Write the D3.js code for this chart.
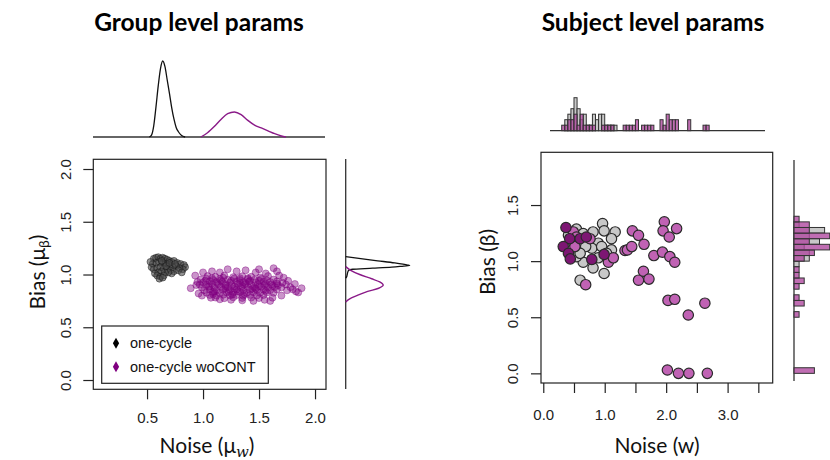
<!DOCTYPE html>
<html><head><meta charset="utf-8">
<script src="https://cdn.jsdelivr.net/npm/d3@7"></script>
<style>body{margin:0;background:#fff}svg{display:block}</style>
</head><body>
<svg id="c" width="830" height="460"></svg>
<script>
// ---------------- DATA ----------------
const titles = ["Group level params", "Subject level params"];
const legendLabels = ["one-cycle", "one-cycle woCONT"];
const groupXTicks = [0.5, 1.0, 1.5, 2.0];
const groupYTicks = [0.0, 0.5, 1.0, 1.5, 2.0];
const subjXTicks = [0.0, 0.5, 1.0, 1.5, 2.0, 2.5, 3.0, 3.5];
const subjXLabels = [0.0, 1.0, 2.0, 3.0];
const subjYTicks = [0.0, 0.5, 1.0, 1.5];

// group-level posterior samples (mu_w, mu_beta)
const groupOneCycle = [
 [0.56,1.15],[0.58,1.16],[0.60,1.165],[0.62,1.15],[0.64,1.16],[0.66,1.15],[0.68,1.14],[0.70,1.13],[0.72,1.12],[0.74,1.13],
 [0.77,1.11],[0.80,1.10],[0.83,1.09],[0.84,1.07],[0.82,1.05],[0.79,1.06],[0.76,1.08],[0.73,1.07],[0.70,1.09],[0.67,1.10],
 [0.64,1.11],[0.61,1.12],[0.58,1.11],[0.55,1.10],[0.54,1.07],[0.56,1.05],[0.59,1.06],[0.62,1.07],[0.65,1.06],[0.68,1.05],
 [0.71,1.04],[0.74,1.03],[0.72,1.01],[0.69,1.02],[0.66,1.02],[0.63,1.03],[0.60,1.02],[0.57,1.01],[0.59,0.99],[0.62,0.98],
 [0.65,0.99],[0.61,0.96],[0.64,0.97],[0.78,1.04],[0.81,1.02],[0.67,1.08],[0.63,1.13],[0.70,1.11],[0.75,1.10],[0.53,1.12]
];
const groupWoCont = [
 [1.04,0.985],[1.11,0.978],[1.19,0.99],[1.27,0.975],[1.35,0.983],[1.43,0.978],[1.51,0.972],[1.58,0.985],
 [0.98,0.952],[1.03,0.96],[1.09,0.948],[1.15,0.958],[1.22,0.951],[1.28,0.962],[1.33,0.947],[1.40,0.956],[1.46,0.95],[1.52,0.958],[1.57,0.945],[1.63,0.952],
 [0.95,0.93],[1.00,0.925],[1.06,0.935],[1.12,0.928],[1.17,0.932],[1.24,0.924],[1.30,0.934],[1.36,0.927],[1.41,0.933],[1.47,0.925],[1.54,0.931],[1.60,0.928],[1.66,0.935],[1.71,0.922],
 [0.97,0.905],[1.03,0.90],[1.08,0.91],[1.14,0.902],[1.20,0.907],[1.26,0.899],[1.31,0.908],[1.37,0.903],[1.43,0.90],[1.49,0.909],[1.55,0.901],[1.61,0.906],[1.67,0.898],[1.74,0.905],
 [0.99,0.878],[1.05,0.884],[1.10,0.876],[1.16,0.882],[1.22,0.879],[1.28,0.886],[1.34,0.875],[1.40,0.881],[1.46,0.878],[1.52,0.884],[1.58,0.876],[1.64,0.882],[1.70,0.879],
 [1.01,0.852],[1.06,0.858],[1.12,0.85],[1.18,0.856],[1.24,0.853],[1.30,0.859],[1.36,0.851],[1.42,0.855],[1.48,0.85],[1.54,0.857],[1.60,0.852],[1.66,0.858],
 [1.03,0.828],[1.09,0.833],[1.15,0.826],[1.21,0.831],[1.27,0.829],[1.33,0.834],[1.39,0.827],[1.45,0.832],[1.51,0.826],[1.57,0.83],[1.63,0.827],
 [1.06,0.806],[1.12,0.80],[1.18,0.808],[1.24,0.802],[1.30,0.805],[1.36,0.799],[1.42,0.807],[1.48,0.801],[1.54,0.806],
 [1.11,0.782],[1.19,0.776],[1.27,0.784],[1.35,0.778],[1.43,0.781],[1.50,0.777],
 [1.08,0.965],[1.25,0.94],[1.38,0.915],[1.20,0.87],[1.44,0.865],[1.31,0.84],[1.13,0.915],[1.56,0.915],[1.26,0.81],[1.40,0.965],
 [1.02,0.94],[1.16,0.945],[1.33,0.92],[1.50,0.94],[1.06,0.89],[1.28,0.865],[1.50,0.89],[1.62,0.89],[1.10,0.84],[1.37,0.815],
 [1.18,0.97],[1.47,0.865],[1.23,0.835],[1.56,0.845],[1.33,0.965],[1.09,0.815],[1.42,0.94],[1.66,0.915],[1.20,0.895],[1.35,0.89],
 [0.89,0.87],[0.93,0.99],[0.96,0.82],[1.00,1.02],[1.08,1.03],[1.15,1.02],[1.22,1.05],[1.30,1.03],[1.38,1.04],[1.47,1.02],
 [1.56,1.01],[1.63,1.06],[1.68,0.99],[1.72,0.97],[1.76,0.94],[1.78,0.88],[1.80,0.86],[1.83,0.84],[1.85,0.83],[1.82,0.91],
 [1.75,0.85],[1.70,0.80],[1.62,0.78],[1.55,0.76],[1.45,0.75],[1.35,0.755],[1.25,0.76],[1.15,0.765],[1.07,0.78],[0.99,0.80],
 [0.94,0.90],[1.66,1.03],[1.50,1.05],[1.88,0.87],[1.60,0.75]
];
// marginal densities (group level)
const densWOneX = [0.52,0.54,0.56,0.58,0.60,0.62,0.64,0.66,0.68,0.70,0.72,0.74,0.76,0.78,0.80,0.82,0.84];
const densWOneY = [0,0.2,1.2,3.2,5.4,7.2,8.0,7.4,6.0,4.6,3.1,1.9,1.0,0.55,0.25,0.08,0];
const densWWoX = [0.98,1.04,1.10,1.16,1.22,1.28,1.34,1.40,1.46,1.52,1.58,1.64,1.70,1.74];
const densWWoY = [0,0.45,1.1,1.85,2.45,2.63,2.35,1.75,1.25,0.95,0.65,0.35,0.1,0];
const densBOneX = [1.17,1.15,1.13,1.11,1.09,1.085,1.08,1.07,1.06,1.05,1.04,1.02,1.00,0.98,0.965];
const densBOneY = [0,15,32,49,62,64,58,46,27,7,3,2,1.5,1,0];
const densBWoX = [1.075,1.04,1.00,0.96,0.93,0.90,0.87,0.84,0.80,0.77,0.74];
const densBWoY = [0,5,14,26,34,37.5,33,22,11,4,0];

// subject-level estimates (w, beta)
const subjOneCycle = [
 [0.54,1.285],[0.49,1.23],[0.65,1.245],[0.81,1.26],[0.965,1.335],[0.99,1.27],[1.17,1.26],[1.11,1.20],[0.895,1.16],[0.79,1.115],
 [0.95,1.13],[1.11,1.10],[0.65,0.99],[0.54,1.04],[0.81,0.94],[0.99,0.89],[0.60,0.83],[0.69,1.13],[0.60,1.07],[0.895,1.03],
 [1.03,1.07],[0.49,1.17],[0.41,1.23]
];
const subjWoContLow = [ // darker-shaded woCONT subjects
 [0.369,1.30],[0.43,1.20],[0.325,1.13],[0.41,1.07],[0.44,1.02],[0.60,1.20],[0.70,1.215],[0.79,1.015],[0.99,1.06]
];
const subjWoCont = [
 [0.49,1.26],[0.54,1.215],[0.515,1.13],[0.76,1.20],[0.69,0.79],[1.06,0.99],[1.14,1.03],[1.33,1.095],[1.37,1.10],[1.44,1.13],
 [1.45,1.27],[1.55,1.23],[1.64,1.15],[1.80,1.05],[1.55,0.83],[1.63,0.91],[1.72,0.84],[1.94,1.08],[1.97,1.35],[1.95,1.27],
 [2.05,1.215],[2.17,1.29],[2.06,1.04],[2.14,0.99],[2.03,0.65],[2.14,0.66],[2.36,0.52],[2.63,0.625],[2.02,0.03],[2.20,0.0],
 [2.37,0.0],[2.67,0.0]
];
// marginal histogram counts (bin width 0.05)
const histBinWidth = 0.05;
const wHistStart = 0.30;
const wHistGray =   [0,2,3,4,6,4,2,3,1,1,3,2,3,3,1,1,1,1,0];
const wHistPurple = [1,1,2,2,3,1,3,1,1,1,1,0,0,1,1,1,1,0,0,0,1,1,1,1,2,0,1,1,1,1,0,0,2,1,3,2,2,2,0,0,0,2,0,0,0,0,1,1];
const bHistStart = 0.00;
const bHistGray =   [0,0,0,0,0,0,0,0,0,0,0,0,0,0,0,0,0,0,0,1,3,3,2,5,3,6,1,0];
const bHistPurple = [4,0,0,0,0,0,0,0,0,0,1,0,2,1,0,1,2,1,1,0,2,4,7,3,7,3,3,1];

// ---------------- DRAWING ----------------
const svg = d3.select("#c");
const tickFont = "'Liberation Sans', Arial, sans-serif";
const titleFont = "Lato, 'Open Sans', sans-serif";
const purpleLine = "#8A1A88";

// titles
svg.append("text").attr("x", 199).attr("y", 31).attr("text-anchor", "middle")
  .attr("font-family", titleFont).attr("font-weight", 700).attr("font-size", 24.5).text(titles[0]);
svg.append("text").attr("x", 653).attr("y", 31).attr("text-anchor", "middle")
  .attr("font-family", titleFont).attr("font-weight", 700).attr("font-size", 24.5).text(titles[1]);

// ===== LEFT PANEL =====
const xL = d3.scaleLinear().domain([0.02, 2.098]).range([93.3, 326]);
const yL = d3.scaleLinear().domain([-0.088, 2.092]).range([389.3, 159.3]);

const gL = svg.append("g");
// points
gL.append("g").selectAll("circle").data(groupOneCycle).join("circle")
  .attr("cx", d => xL(d[0])).attr("cy", d => yL(d[1])).attr("r", 3.4)
  .attr("fill", "#4a4a4a").attr("fill-opacity", 0.6)
  .attr("stroke", "#111").attr("stroke-opacity", 0.6).attr("stroke-width", 0.8);
gL.append("g").selectAll("circle").data(groupWoCont).join("circle")
  .attr("cx", d => xL(d[0])).attr("cy", d => yL(d[1])).attr("r", 3.5)
  .attr("fill", "#800080").attr("fill-opacity", 0.42)
  .attr("stroke", "#800080").attr("stroke-opacity", 0.5).attr("stroke-width", 0.8);

// box
gL.append("rect").attr("x", 93.3).attr("y", 159.3).attr("width", 326 - 93.3).attr("height", 389.3 - 159.3)
  .attr("fill", "none").attr("stroke", "#222").attr("stroke-width", 1.2);

// axes
const axXL = gL.append("g").attr("transform", "translate(0,389.3)")
  .call(d3.axisBottom(xL).tickValues(groupXTicks).tickSize(10).tickPadding(4).tickFormat(d3.format(".1f")));
axXL.select(".domain").remove();
axXL.selectAll("line").attr("stroke", "#222").attr("stroke-width", 1.2);
axXL.selectAll("text").attr("font-family", tickFont).attr("font-size", 15).attr("fill", "#222")
  .attr("y", 28.5).attr("dy", "0.35em");

const axYL = gL.append("g").attr("transform", "translate(93.3,0)")
  .call(d3.axisLeft(yL).tickValues(groupYTicks).tickSize(10).tickFormat(d3.format(".1f")));
axYL.select(".domain").remove();
axYL.selectAll("line").attr("stroke", "#222").attr("stroke-width", 1.2);
axYL.selectAll("text").attr("font-family", tickFont).attr("font-size", 15).attr("fill", "#222")
  .attr("x", 0).attr("y", -28).attr("dy", "0.35em").attr("text-anchor", "middle")
  .attr("transform", "rotate(-90)");

// axis titles
const xtL = svg.append("text").attr("x", 207).attr("y", 453).attr("text-anchor", "middle")
  .attr("font-family", titleFont).attr("font-size", 21).attr("fill", "#111");
xtL.append("tspan").text("Noise (μ");
xtL.append("tspan").attr("font-family", "'DejaVu Serif', serif").attr("font-style", "italic").attr("font-size", 15).attr("dy", 4).text("w");
xtL.append("tspan").attr("dy", -4).text(")");

const ytL = svg.append("text").attr("transform", "translate(45,272) rotate(-90)").attr("text-anchor", "middle")
  .attr("font-family", titleFont).attr("font-size", 21).attr("fill", "#111");
ytL.append("tspan").text("Bias (μ");
ytL.append("tspan").attr("font-size", 14).attr("dy", 4).text("β");
ytL.append("tspan").attr("dy", -4).text(")");

// legend
const leg = gL.append("g");
leg.append("rect").attr("x", 101.7).attr("y", 326).attr("width", 166.6).attr("height", 57.3)
  .attr("fill", "#fff").attr("stroke", "#222").attr("stroke-width", 1.2);
const legColors = ["#000", "#800080"];
legendLabels.forEach((lab, i) => {
  const cy = 343.3 + i * 23.4;
  leg.append("path").attr("d", d3.symbol(d3.symbolDiamond, 34)())
    .attr("transform", `translate(116,${cy})`).attr("fill", legColors[i]);
  leg.append("text").attr("x", 130).attr("y", cy).attr("dy", "0.35em")
    .attr("font-family", tickFont).attr("font-size", 14.5).attr("fill", "#111").text(lab);
});

// top marginal density
const dTop = d3.scaleLinear().domain([0, 8.0]).range([137, 61]);
svg.append("line").attr("x1", 93).attr("x2", 325).attr("y1", 137).attr("y2", 137)
  .attr("stroke", "#333").attr("stroke-width", 1.3);
const lineTop = d3.line().x(d => xL(d[0])).y(d => dTop(d[1])).curve(d3.curveMonotoneX);
svg.append("path").attr("d", lineTop(d3.zip(densWOneX, densWOneY)))
  .attr("fill", "none").attr("stroke", "#111").attr("stroke-width", 1.3);
svg.append("path").attr("d", lineTop(d3.zip(densWWoX, densWWoY)))
  .attr("fill", "none").attr("stroke", purpleLine).attr("stroke-width", 1.4);

// right marginal density
const dRight = d3.scaleLinear().domain([0, 64]).range([345.7, 409.7]);
svg.append("line").attr("x1", 345.7).attr("x2", 345.7).attr("y1", 159).attr("y2", 389)
  .attr("stroke", "#333").attr("stroke-width", 1.3);
const lineRight = d3.line().x(d => dRight(d[1])).y(d => yL(d[0])).curve(d3.curveMonotoneY);
svg.append("path").attr("d", lineRight(d3.zip(densBOneX, densBOneY)))
  .attr("fill", "none").attr("stroke", "#111").attr("stroke-width", 1.3);
svg.append("path").attr("d", lineRight(d3.zip(densBWoX, densBWoY)))
  .attr("fill", "none").attr("stroke", purpleLine).attr("stroke-width", 1.4);

// ===== RIGHT PANEL =====
const xR = d3.scaleLinear().domain([-0.037, 3.734]).range([541, 772.7]);
const yR = d3.scaleLinear().domain([-0.086, 1.970]).range([383, 152.3]);
const gR = svg.append("g");

const ptStroke = "#2a2a2a";
gR.append("g").selectAll("circle").data(subjOneCycle).join("circle")
  .attr("cx", d => xR(d[0])).attr("cy", d => yR(d[1])).attr("r", 5.2)
  .attr("fill", "#c8c8c8").attr("stroke", ptStroke).attr("stroke-width", 1.2);
gR.append("g").selectAll("circle").data(subjWoCont).join("circle")
  .attr("cx", d => xR(d[0])).attr("cy", d => yR(d[1])).attr("r", 5.2)
  .attr("fill", "#c062b4").attr("stroke", ptStroke).attr("stroke-width", 1.2);
gR.append("g").selectAll("circle").data(subjWoContLow).join("circle")
  .attr("cx", d => xR(d[0])).attr("cy", d => yR(d[1])).attr("r", 5.2)
  .attr("fill", "#7d1673").attr("stroke", ptStroke).attr("stroke-width", 1.2);

gR.append("rect").attr("x", 541).attr("y", 152.3).attr("width", 772.7 - 541).attr("height", 383 - 152.3)
  .attr("fill", "none").attr("stroke", "#222").attr("stroke-width", 1.2);

const axXR = gR.append("g").attr("transform", "translate(0,383)")
  .call(d3.axisBottom(xR).tickValues(subjXTicks).tickSize(10)
    .tickFormat(d => subjXLabels.includes(d) ? d3.format(".1f")(d) : ""));
axXR.select(".domain").remove();
axXR.selectAll("line").attr("stroke", "#222").attr("stroke-width", 1.2);
axXR.selectAll("text").attr("font-family", tickFont).attr("font-size", 15).attr("fill", "#222")
  .attr("y", 32).attr("dy", "0.35em");

const axYR = gR.append("g").attr("transform", "translate(541,0)")
  .call(d3.axisLeft(yR).tickValues(subjYTicks).tickSize(10).tickFormat(d3.format(".1f")));
axYR.select(".domain").remove();
axYR.selectAll("line").attr("stroke", "#222").attr("stroke-width", 1.2);
axYR.selectAll("text").attr("font-family", tickFont).attr("font-size", 15).attr("fill", "#222")
  .attr("x", 0).attr("y", -28).attr("dy", "0.35em").attr("text-anchor", "middle")
  .attr("transform", "rotate(-90)");

svg.append("text").attr("x", 657).attr("y", 453).attr("text-anchor", "middle")
  .attr("font-family", titleFont).attr("font-size", 21).attr("fill", "#111").text("Noise (w)");
svg.append("text").attr("transform", "translate(495,262) rotate(-90)").attr("text-anchor", "middle")
  .attr("font-family", titleFont).attr("font-size", 21).attr("fill", "#111").text("Bias (β)");

// top histogram
const hTop = d3.scaleLinear().domain([0, 6]).range([130.7, 97.7]);
svg.append("line").attr("x1", 550).attr("x2", 765).attr("y1", 130.7).attr("y2", 130.7)
  .attr("stroke", "#333").attr("stroke-width", 1.3);
function topBars(counts, fill, op) {
  const data = counts.map((c, i) => ({x0: wHistStart + i * histBinWidth, c})).filter(d => d.c > 0);
  svg.append("g").selectAll("rect").data(data).join("rect")
    .attr("x", d => xR(d.x0)).attr("width", d => xR(d.x0 + histBinWidth) - xR(d.x0))
    .attr("y", d => hTop(d.c)).attr("height", d => hTop(0) - hTop(d.c))
    .attr("fill", fill).attr("fill-opacity", op).attr("stroke", "#333").attr("stroke-width", 1);
}
topBars(wHistGray, "#c8c8c8", 1);
topBars(wHistPurple, "#b04aa0", 0.8);

// right histogram
const hRight = d3.scaleLinear().domain([0, 7]).range([794, 829.7]);
svg.append("line").attr("x1", 794).attr("x2", 794).attr("y1", 160).attr("y2", 381)
  .attr("stroke", "#333").attr("stroke-width", 1.3);
function rightBars(counts, fill, op) {
  const data = counts.map((c, i) => ({y0: bHistStart + i * histBinWidth, c})).filter(d => d.c > 0);
  svg.append("g").selectAll("rect").data(data).join("rect")
    .attr("x", hRight(0)).attr("width", d => hRight(d.c) - hRight(0))
    .attr("y", d => yR(d.y0 + histBinWidth)).attr("height", d => yR(d.y0) - yR(d.y0 + histBinWidth))
    .attr("fill", fill).attr("fill-opacity", op).attr("stroke", "#333").attr("stroke-width", 1);
}
rightBars(bHistGray, "#c8c8c8", 1);
rightBars(bHistPurple, "#b04aa0", 0.8);
</script>
</body></html>
